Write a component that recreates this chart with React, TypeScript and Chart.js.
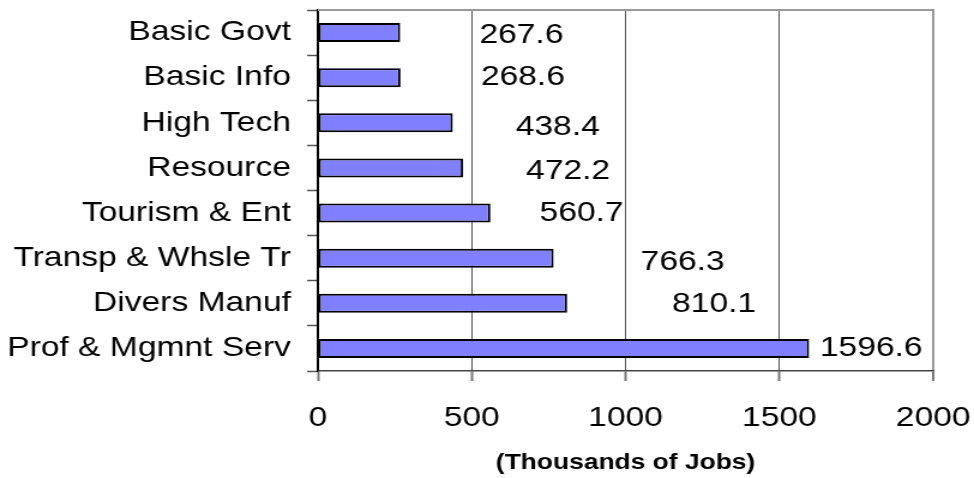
import React, { useEffect, useRef } from "react";
import { Chart, registerables } from "chart.js";

Chart.register(...registerables);

// ---- data ----
const categories = [
  "Basic Govt",
  "Basic Info",
  "High Tech",
  "Resource",
  "Tourism & Ent",
  "Transp & Whsle Tr",
  "Divers Manuf",
  "Prof & Mgmnt Serv",
];
const jobs = [267.6, 268.6, 438.4, 472.2, 560.7, 766.3, 810.1, 1596.6];
const xTickValues = [0, 500, 1000, 1500, 2000];
const axisTitle = "(Thousands of Jobs)";

// ---- label placement (offsets from bar end, canvas units) ----
const labelDx = [66, 67, 52.5, 52.5, 41, 72.5, 87.5, 9];
const labelDy = [3, 0, 4.5, 3.5, 0, 4.5, 1, 0];

// ---- geometry / style ----
const W = 974;
const H = 478;
const SX = 1.2; // horizontal stretch of the original rendering
const CW = Math.round(W / SX);
const FONT = "'Liberation Sans', Arial, Helvetica, sans-serif";

const valueLabels = {
  id: "valueLabels",
  afterDatasetsDraw(chart: any) {
    const ctx = chart.ctx;
    const meta = chart.getDatasetMeta(0);
    ctx.save();
    ctx.font = `28px ${FONT}`;
    ctx.fillStyle = "#000";
    ctx.textAlign = "left";
    ctx.textBaseline = "middle";
    meta.data.forEach((bar: any, i: number) => {
      const v = chart.data.datasets[0].data[i];
      ctx.fillText(String(v), bar.x + labelDx[i], bar.y + labelDy[i]);
    });
    ctx.restore();
  },
};

const topBorder = {
  id: "topBorder",
  beforeDatasetsDraw(chart: any) {
    const { ctx, chartArea } = chart;
    ctx.save();
    ctx.strokeStyle = "#999";
    ctx.lineWidth = 2;
    ctx.beginPath();
    ctx.moveTo(chartArea.left, chartArea.top);
    ctx.lineTo(chartArea.right + 1, chartArea.top);
    ctx.stroke();
    ctx.restore();
  },
};

export default function App() {
  const ref = useRef<HTMLCanvasElement | null>(null);

  useEffect(() => {
    if (!ref.current) return;
    const chart = new Chart(ref.current, {
      type: "bar",
      data: {
        labels: categories,
        datasets: [
          {
            data: jobs,
            backgroundColor: "#8080FF",
            borderColor: "#000000",
            borderWidth: 2,
            borderSkipped: false,
            barPercentage: 0.42,
            categoryPercentage: 1,
          },
        ],
      },
      options: {
        indexAxis: "y",
        responsive: false,
        animation: false,
        devicePixelRatio: 1,
        layout: { padding: { left: 0, right: 34, top: 10, bottom: 0 } },
        plugins: {
          legend: { display: false },
          tooltip: { enabled: false },
          title: { display: false },
        },
        scales: {
          x: {
            type: "linear",
            min: 0,
            max: 2000,
            afterBuildTicks: (s: any) => {
              s.ticks = xTickValues.map((v) => ({ value: v }));
            },
            afterFit: (s: any) => {
              s.height = 107;
              s.paddingLeft = 0;
              s.paddingRight = 0;
            },
            grid: {
              color: (c: any) =>
                c.tick && c.tick.value === 2000 ? "#999" : c.tick && c.tick.value === 0 ? "#000" : "#555",
              lineWidth: (c: any) => (c.tick && c.tick.value === 2000 ? 2 : 1),
              tickColor: "#777",
              tickWidth: 2,
              tickLength: 10,
              drawOnChartArea: true,
            },
            border: { display: true, color: "#444", width: 1.5 },
            ticks: {
              color: "#000",
              font: { family: FONT, size: 28 },
              padding: 20,
              maxRotation: 0,
              callback: (v: any) => String(v),
            },
            title: {
              display: true,
              text: axisTitle,
              color: "#000",
              font: { family: FONT, size: 22, weight: "bold" },
              padding: { top: 0, bottom: 2 },
            },
          },
          y: {
            type: "category",
            offset: true,
            afterFit: (s: any) => {
              s.width = 265;
              s.paddingTop = 0;
              s.paddingBottom = 0;
            },
            grid: {
              offset: true,
              drawOnChartArea: false,
              color: "#555",
              tickColor: "#555",
              tickWidth: 1.5,
              tickLength: 9,
            },
            border: { display: true, color: "#000", width: 1.5 },
            ticks: {
              color: "#000",
              font: { family: FONT, size: 28 },
              padding: 13.5,
              autoSkip: false,
            },
          },
        },
      },
      plugins: [topBorder, valueLabels],
    } as any);
    return () => chart.destroy();
  }, []);

  return (
    <div
      style={{
        position: "fixed",
        left: 0,
        top: 0,
        width: W,
        height: H,
        background: "#fff",
      }}
    >
      <canvas
        ref={ref}
        width={CW}
        height={H}
        style={{ width: `${W}px`, height: `${H}px`, display: "block" }}
      />
    </div>
  );
}
